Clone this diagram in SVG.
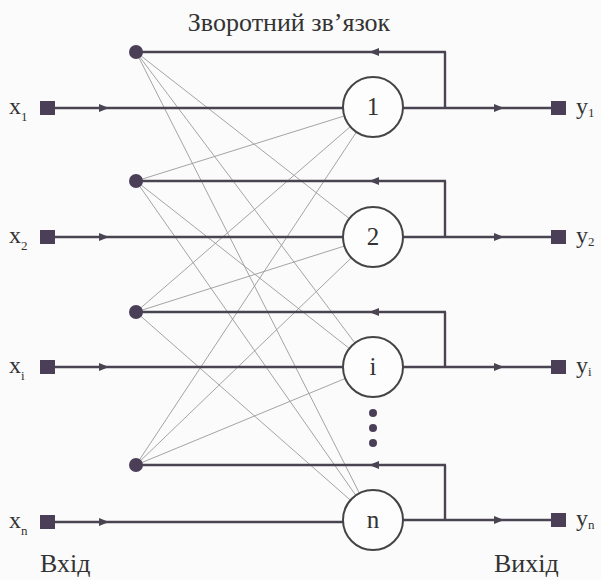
<svg xmlns="http://www.w3.org/2000/svg" xmlns:xlink="http://www.w3.org/1999/xlink" width="601" height="580" viewBox="0 0 601 580">
<style>
.bg{fill:#fbfbfb}
.thick{stroke:#4a4452;stroke-width:2.4;fill:none}
.thin{stroke:#9a9a9a;stroke-width:0.9;fill:none}
.neuron{fill:#fdfdfd;stroke:#444;stroke-width:2}
.sq{fill:#4b3f58}
.dot{fill:#4b3f58}
.t{font-family:"Liberation Serif","Times New Roman",serif;fill:#333}
.lbl{font-size:24px}
.sub{font-size:13px}
.num{font-size:25px;text-anchor:middle}
</style>
<defs>
<marker id="arr" viewBox="0 0 10 8" refX="9" refY="4" markerWidth="10" markerHeight="8" markerUnits="userSpaceOnUse" orient="auto">
<path d="M0,0 L10,4 L0,8 Z" fill="#4a4452"/>
</marker>
</defs>
<rect class="bg" x="0" y="0" width="601" height="580"/>
<text class="t" x="289" y="31" font-size="26" text-anchor="middle">Зворотний зв’язок</text>

<g id="connectors">
<g class="thin">
<line x1="136" y1="52" x2="373" y2="237"/>
<line x1="136" y1="52" x2="373" y2="367"/>
<line x1="136" y1="52" x2="373" y2="520"/>
<line x1="136" y1="181" x2="373" y2="107"/>
<line x1="136" y1="181" x2="373" y2="367"/>
<line x1="136" y1="181" x2="373" y2="520"/>
<line x1="136" y1="312" x2="373" y2="107"/>
<line x1="136" y1="312" x2="373" y2="237"/>
<line x1="136" y1="312" x2="373" y2="520"/>
<line x1="136" y1="465" x2="373" y2="107"/>
<line x1="136" y1="465" x2="373" y2="237"/>
<line x1="136" y1="465" x2="373" y2="367"/>
</g>
<path class="thick" marker-mid="url(#arr)" d="M55,108 H108 H345"/>
<path class="thick" marker-mid="url(#arr)" d="M55,237 H108 H345"/>
<path class="thick" marker-mid="url(#arr)" d="M55,367 H108 H345"/>
<path class="thick" marker-mid="url(#arr)" d="M55,522 H108 H345"/>
<path class="thick" marker-mid="url(#arr)" d="M403,108 H503 H552"/>
<path class="thick" marker-mid="url(#arr)" d="M403,237 H503 H552"/>
<path class="thick" marker-mid="url(#arr)" d="M403,367 H503 H552"/>
<path class="thick" marker-mid="url(#arr)" d="M403,520 H503 H552"/>
<path class="thick" d="M445,108 V52"/>
<path class="thick" marker-mid="url(#arr)" d="M446,52 H370 H136"/>
<path class="thick" d="M445,237 V181"/>
<path class="thick" marker-mid="url(#arr)" d="M446,181 H370 H136"/>
<path class="thick" d="M445,367 V312"/>
<path class="thick" marker-mid="url(#arr)" d="M446,312 H370 H136"/>
<path class="thick" d="M445,520 V465"/>
<path class="thick" marker-mid="url(#arr)" d="M446,465 H370 H136"/>
</g>

<g id="fb1"><circle class="dot" cx="136" cy="52" r="7"/></g>
<g id="fb2"><circle class="dot" cx="136" cy="181" r="7"/></g>
<g id="fb3"><circle class="dot" cx="136" cy="312" r="7"/></g>
<g id="fb4"><circle class="dot" cx="136" cy="465" r="7"/></g>

<g id="n1"><circle class="neuron" cx="373" cy="107" r="30"/><text class="t num" x="373" y="115">1</text></g>
<g id="n2"><circle class="neuron" cx="373" cy="237" r="30"/><text class="t num" x="373" y="245">2</text></g>
<g id="ni"><circle class="neuron" cx="373" cy="367" r="30"/><text class="t num" x="373" y="375">i</text></g>
<g id="nn"><circle class="neuron" cx="373" cy="520" r="30"/><text class="t num" x="373" y="528">n</text></g>

<g id="ellipsis" class="dot">
<circle cx="373" cy="413" r="4"/>
<circle cx="373" cy="428" r="4"/>
<circle cx="373" cy="443" r="4"/>
</g>

<g id="x1"><rect class="sq" x="40" y="101" width="15" height="14"/><text class="t lbl" x="9" y="114">x<tspan class="sub" dy="7">1</tspan></text></g>
<g id="x2"><rect class="sq" x="40" y="230" width="15" height="14"/><text class="t lbl" x="9" y="243">x<tspan class="sub" dy="7">2</tspan></text></g>
<g id="xi"><rect class="sq" x="40" y="360" width="15" height="14"/><text class="t lbl" x="9" y="373">x<tspan class="sub" dy="7">i</tspan></text></g>
<g id="xn"><rect class="sq" x="40" y="515" width="15" height="14"/><text class="t lbl" x="9" y="528">x<tspan class="sub" dy="7">n</tspan></text></g>

<g id="y1"><rect class="sq" x="551" y="101" width="15" height="14"/><text class="t lbl" x="576" y="114">y<tspan class="sub" dy="3">1</tspan></text></g>
<g id="y2"><rect class="sq" x="551" y="230" width="15" height="14"/><text class="t lbl" x="576" y="243">y<tspan class="sub" dy="3">2</tspan></text></g>
<g id="yi"><rect class="sq" x="551" y="360" width="15" height="14"/><text class="t lbl" x="576" y="373">y<tspan class="sub" dy="3">i</tspan></text></g>
<g id="yn"><rect class="sq" x="551" y="513" width="15" height="14"/><text class="t lbl" x="576" y="526">y<tspan class="sub" dy="3">n</tspan></text></g>

<text class="t" x="40" y="572" font-size="26">Вхід</text>
<text class="t" x="494" y="572" font-size="26">Вихід</text>
</svg>
